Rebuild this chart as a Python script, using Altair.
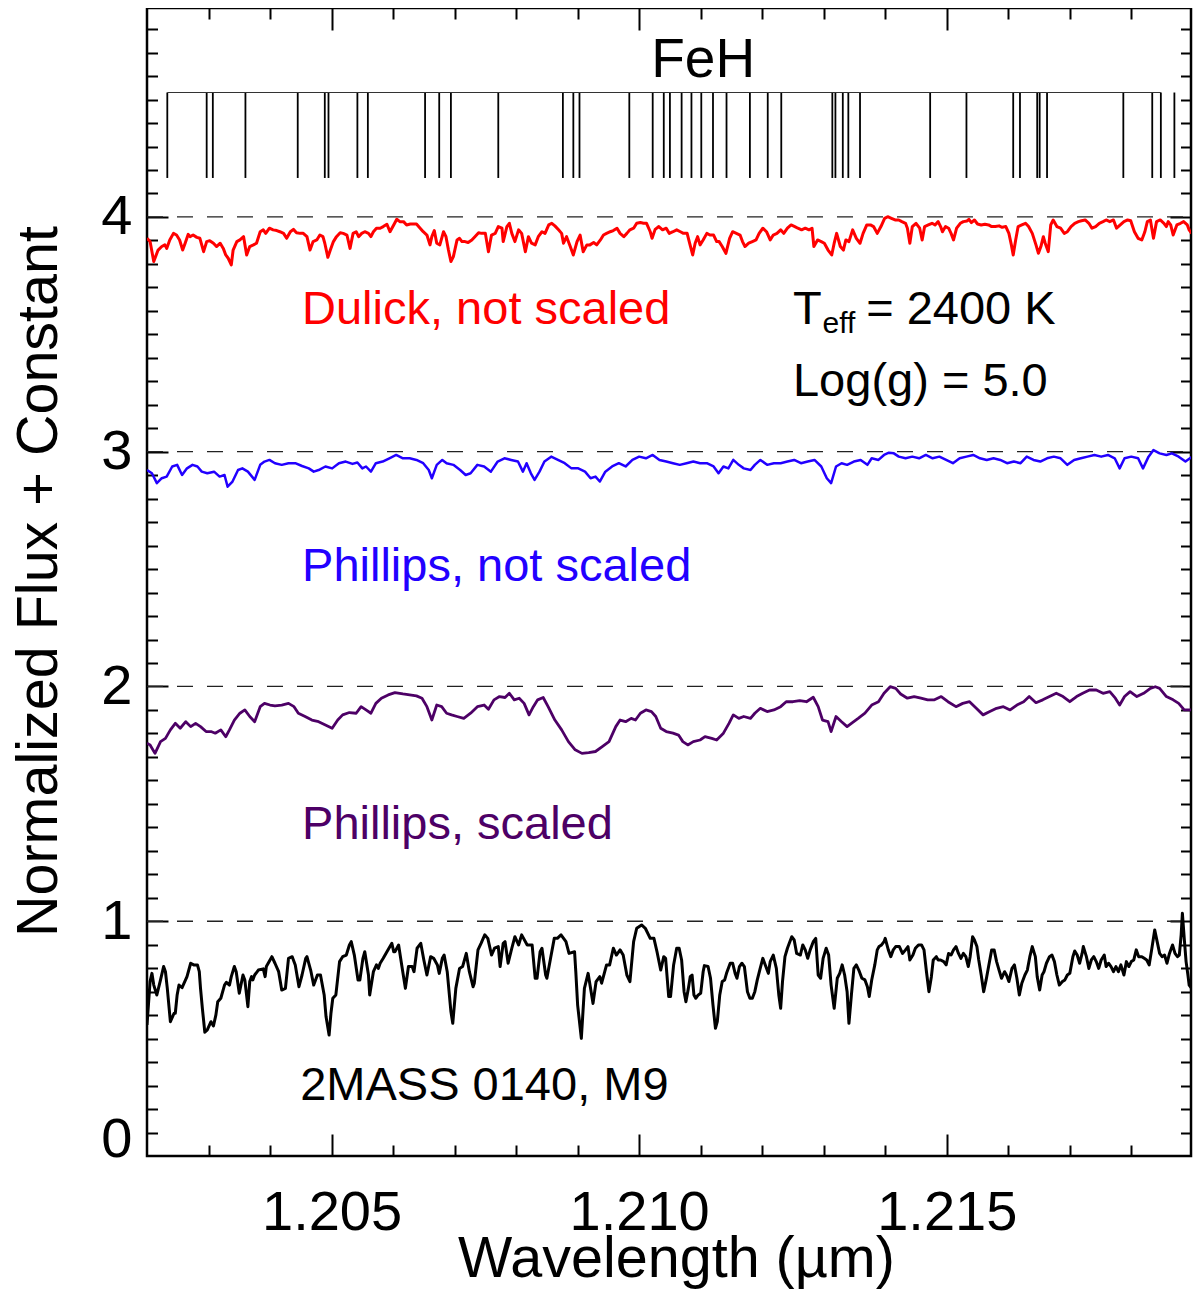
import altair as alt
import pandas as pd

FONT = "Liberation Sans"
W, H = 1044, 1148
X_DOMAIN = [1.202, 1.21897]
Y_DOMAIN = [0.0, 4.89]

# ---------------- axis values ----------------
X_LABELS = [1.205, 1.210, 1.215]
X_MINOR = [1.203, 1.204, 1.205, 1.206, 1.207, 1.208, 1.209, 1.210, 1.211,
           1.212, 1.213, 1.214, 1.215, 1.216, 1.217, 1.218]
Y_LABELS = [0, 1, 2, 3, 4]
Y_MINOR = [round(0.1 * i, 1) for i in range(1, 49)]
REF_LEVELS = [1, 2, 3, 4]

# ---------------- FeH line list ----------------
FEH_LINES = [1.20233, 1.20297, 1.20307, 1.20360, 1.20445, 1.20489, 1.20495, 1.20542,
             1.20559, 1.20652, 1.20675, 1.20694, 1.20771, 1.20876, 1.20893, 1.20903,
             1.20984, 1.21022, 1.21040, 1.21050, 1.21069, 1.21085, 1.21101, 1.21120,
             1.21142, 1.21180, 1.21209, 1.21231, 1.21314, 1.21319, 1.21331, 1.21340,
             1.21359, 1.21473, 1.21532, 1.21608, 1.21619, 1.21647, 1.21651, 1.21663,
             1.21787, 1.21834, 1.21848, 1.21870]
FEH_BAR = [1.20233, 1.21848]
FEH_TOP = 4.530
FEH_BOTTOM = 4.166

# ---------------- spectra (wavelength, flux + constant) ----------------
RED = [
    (1.20200, 3.909), (1.20205, 3.895), (1.20211, 3.810), (1.20218, 3.859), (1.20224, 3.874),
    (1.20229, 3.881), (1.20232, 3.866), (1.20237, 3.902), (1.20243, 3.930), (1.20248, 3.923),
    (1.20253, 3.902), (1.20258, 3.859), (1.20262, 3.888), (1.20267, 3.926), (1.20270, 3.916),
    (1.20275, 3.923), (1.20281, 3.913), (1.20286, 3.909), (1.20292, 3.852), (1.20297, 3.895),
    (1.20302, 3.899), (1.20308, 3.888), (1.20313, 3.874), (1.20319, 3.888), (1.20324, 3.866),
    (1.20328, 3.838), (1.20332, 3.824), (1.20337, 3.796), (1.20340, 3.859), (1.20346, 3.895),
    (1.20351, 3.902), (1.20357, 3.916), (1.20362, 3.838), (1.20367, 3.874), (1.20373, 3.881),
    (1.20378, 3.888), (1.20384, 3.937), (1.20389, 3.945), (1.20393, 3.930), (1.20399, 3.952),
    (1.20405, 3.945), (1.20411, 3.942), (1.20416, 3.937), (1.20422, 3.930), (1.20427, 3.909),
    (1.20433, 3.937), (1.20438, 3.947), (1.20443, 3.933), (1.20449, 3.930), (1.20454, 3.930),
    (1.20460, 3.916), (1.20465, 3.859), (1.20470, 3.895), (1.20476, 3.902), (1.20481, 3.923),
    (1.20486, 3.916), (1.20489, 3.888), (1.20494, 3.828), (1.20498, 3.859), (1.20503, 3.895),
    (1.20508, 3.916), (1.20514, 3.933), (1.20519, 3.930), (1.20525, 3.923), (1.20530, 3.866),
    (1.20535, 3.930), (1.20540, 3.937), (1.20544, 3.916), (1.20549, 3.930), (1.20554, 3.937),
    (1.20560, 3.930), (1.20564, 3.916), (1.20568, 3.937), (1.20573, 3.952), (1.20579, 3.952),
    (1.20584, 3.959), (1.20590, 3.969), (1.20595, 3.937), (1.20601, 3.966), (1.20606, 3.990),
    (1.20611, 3.980), (1.20617, 3.980), (1.20622, 3.966), (1.20628, 3.970), (1.20633, 3.970),
    (1.20638, 3.970), (1.20644, 3.952), (1.20649, 3.937), (1.20655, 3.923), (1.20660, 3.881),
    (1.20663, 3.916), (1.20667, 3.942), (1.20671, 3.888), (1.20676, 3.881), (1.20682, 3.937),
    (1.20686, 3.916), (1.20690, 3.859), (1.20694, 3.810), (1.20698, 3.831), (1.20704, 3.902),
    (1.20708, 3.909), (1.20712, 3.895), (1.20717, 3.895), (1.20722, 3.891), (1.20728, 3.902),
    (1.20733, 3.916), (1.20739, 3.933), (1.20744, 3.930), (1.20750, 3.930), (1.20755, 3.852),
    (1.20760, 3.923), (1.20766, 3.930), (1.20771, 3.959), (1.20777, 3.952), (1.20779, 3.895),
    (1.20785, 3.959), (1.20789, 3.973), (1.20793, 3.930), (1.20798, 3.895), (1.20804, 3.945),
    (1.20809, 3.930), (1.20815, 3.852), (1.20820, 3.916), (1.20825, 3.888), (1.20831, 3.881),
    (1.20836, 3.916), (1.20842, 3.937), (1.20847, 3.930), (1.20853, 3.966), (1.20858, 3.973),
    (1.20863, 3.962), (1.20869, 3.945), (1.20874, 3.930), (1.20877, 3.888), (1.20882, 3.916),
    (1.20888, 3.874), (1.20893, 3.838), (1.20899, 3.895), (1.20904, 3.923), (1.20909, 3.852),
    (1.20915, 3.881), (1.20920, 3.881), (1.20926, 3.891), (1.20931, 3.881), (1.20937, 3.902),
    (1.20942, 3.923), (1.20947, 3.930), (1.20953, 3.937), (1.20958, 3.942), (1.20964, 3.952),
    (1.20969, 3.930), (1.20975, 3.916), (1.20980, 3.930), (1.20985, 3.945), (1.20991, 3.952),
    (1.20996, 3.973), (1.21002, 3.976), (1.21007, 3.973), (1.21012, 3.973), (1.21018, 3.937),
    (1.21021, 3.909), (1.21026, 3.947), (1.21032, 3.959), (1.21038, 3.945), (1.21044, 3.952),
    (1.21049, 3.930), (1.21055, 3.937), (1.21061, 3.945), (1.21067, 3.937), (1.21072, 3.930),
    (1.21078, 3.930), (1.21082, 3.888), (1.21087, 3.838), (1.21091, 3.888), (1.21095, 3.916),
    (1.21099, 3.881), (1.21104, 3.902), (1.21110, 3.930), (1.21115, 3.923), (1.21121, 3.923),
    (1.21126, 3.895), (1.21130, 3.895), (1.21135, 3.874), (1.21141, 3.845), (1.21147, 3.909),
    (1.21152, 3.937), (1.21158, 3.930), (1.21164, 3.923), (1.21168, 3.895), (1.21172, 3.874),
    (1.21178, 3.888), (1.21184, 3.895), (1.21190, 3.902), (1.21195, 3.930), (1.21201, 3.952),
    (1.21207, 3.937), (1.21213, 3.902), (1.21218, 3.923), (1.21224, 3.930), (1.21230, 3.945),
    (1.21235, 3.930), (1.21241, 3.952), (1.21247, 3.966), (1.21253, 3.959), (1.21258, 3.952),
    (1.21264, 3.945), (1.21270, 3.952), (1.21276, 3.945), (1.21281, 3.952), (1.21284, 3.874),
    (1.21290, 3.902), (1.21296, 3.895), (1.21301, 3.888), (1.21307, 3.859), (1.21313, 3.838),
    (1.21317, 3.888), (1.21321, 3.930), (1.21327, 3.874), (1.21332, 3.859), (1.21336, 3.902),
    (1.21341, 3.895), (1.21347, 3.945), (1.21353, 3.909), (1.21359, 3.888), (1.21364, 3.930),
    (1.21370, 3.966), (1.21376, 3.966), (1.21381, 3.959), (1.21387, 3.930), (1.21393, 3.959),
    (1.21399, 3.994), (1.21404, 4.001), (1.21410, 3.994), (1.21416, 3.987), (1.21422, 3.987),
    (1.21427, 3.980), (1.21433, 3.973), (1.21436, 3.952), (1.21440, 3.888), (1.21444, 3.959),
    (1.21450, 3.973), (1.21456, 3.952), (1.21460, 3.902), (1.21464, 3.959), (1.21470, 3.966),
    (1.21476, 3.973), (1.21481, 3.966), (1.21486, 3.980), (1.21490, 3.959), (1.21493, 3.937),
    (1.21498, 3.959), (1.21503, 3.952), (1.21507, 3.930), (1.21511, 3.902), (1.21516, 3.952),
    (1.21522, 3.973), (1.21527, 3.980), (1.21533, 3.983), (1.21536, 3.990), (1.21540, 3.976),
    (1.21545, 3.987), (1.21550, 3.970), (1.21556, 3.966), (1.21562, 3.969), (1.21568, 3.966),
    (1.21573, 3.959), (1.21579, 3.959), (1.21585, 3.962), (1.21590, 3.956), (1.21596, 3.959),
    (1.21601, 3.930), (1.21605, 3.881), (1.21608, 3.838), (1.21612, 3.902), (1.21616, 3.959),
    (1.21622, 3.966), (1.21628, 3.973), (1.21633, 3.959), (1.21639, 3.930), (1.21645, 3.881),
    (1.21649, 3.845), (1.21653, 3.874), (1.21657, 3.916), (1.21660, 3.888), (1.21665, 3.852),
    (1.21669, 3.966), (1.21673, 3.987), (1.21679, 3.959), (1.21685, 3.952), (1.21691, 3.930),
    (1.21696, 3.937), (1.21702, 3.959), (1.21708, 3.973), (1.21714, 3.980), (1.21719, 3.984),
    (1.21725, 3.987), (1.21731, 3.973), (1.21736, 3.952), (1.21742, 3.959), (1.21748, 3.973),
    (1.21754, 3.980), (1.21759, 3.987), (1.21765, 3.980), (1.21771, 3.987), (1.21776, 3.952),
    (1.21782, 3.966), (1.21788, 3.980), (1.21794, 3.987), (1.21799, 3.984), (1.21805, 3.937),
    (1.21811, 3.909), (1.21817, 3.902), (1.21822, 3.937), (1.21826, 3.980), (1.21831, 3.987),
    (1.21836, 3.909), (1.21841, 3.980), (1.21847, 3.987), (1.21853, 3.973), (1.21857, 3.959),
    (1.21860, 3.980), (1.21864, 3.966), (1.21868, 3.923), (1.21874, 3.966), (1.21880, 3.973),
    (1.21885, 3.980), (1.21891, 3.966), (1.21894, 3.945), (1.21898, 3.930),
]

BLUE = [
    (1.20200, 2.922), (1.20208, 2.908), (1.20216, 2.866), (1.20224, 2.887), (1.20232, 2.894),
    (1.20241, 2.937), (1.20249, 2.944), (1.20257, 2.901), (1.20265, 2.929), (1.20274, 2.944),
    (1.20282, 2.937), (1.20289, 2.915), (1.20298, 2.908), (1.20309, 2.915), (1.20318, 2.894),
    (1.20326, 2.901), (1.20331, 2.851), (1.20339, 2.873), (1.20348, 2.922), (1.20355, 2.929),
    (1.20364, 2.915), (1.20375, 2.880), (1.20384, 2.944), (1.20391, 2.958), (1.20399, 2.965),
    (1.20408, 2.951), (1.20419, 2.944), (1.20430, 2.951), (1.20441, 2.951), (1.20452, 2.939),
    (1.20463, 2.929), (1.20471, 2.915), (1.20479, 2.922), (1.20490, 2.937), (1.20501, 2.929),
    (1.20512, 2.951), (1.20523, 2.958), (1.20534, 2.948), (1.20542, 2.954), (1.20550, 2.929),
    (1.20556, 2.937), (1.20564, 2.915), (1.20572, 2.951), (1.20583, 2.958), (1.20594, 2.972),
    (1.20605, 2.986), (1.20616, 2.972), (1.20627, 2.972), (1.20638, 2.965), (1.20649, 2.951),
    (1.20658, 2.922), (1.20663, 2.887), (1.20671, 2.944), (1.20680, 2.965), (1.20687, 2.951),
    (1.20698, 2.944), (1.20709, 2.922), (1.20718, 2.901), (1.20726, 2.908), (1.20737, 2.944),
    (1.20748, 2.937), (1.20759, 2.915), (1.20770, 2.958), (1.20781, 2.972), (1.20792, 2.965),
    (1.20803, 2.958), (1.20811, 2.915), (1.20817, 2.951), (1.20824, 2.908), (1.20830, 2.880),
    (1.20838, 2.915), (1.20846, 2.958), (1.20857, 2.979), (1.20868, 2.965), (1.20879, 2.951),
    (1.20890, 2.929), (1.20901, 2.929), (1.20912, 2.915), (1.20921, 2.887), (1.20929, 2.894),
    (1.20936, 2.873), (1.20945, 2.915), (1.20956, 2.937), (1.20967, 2.951), (1.20978, 2.937),
    (1.20989, 2.965), (1.21000, 2.979), (1.21011, 2.972), (1.21022, 2.986), (1.21033, 2.965),
    (1.21044, 2.958), (1.21055, 2.951), (1.21066, 2.944), (1.21077, 2.951), (1.21088, 2.958),
    (1.21099, 2.951), (1.21110, 2.951), (1.21121, 2.937), (1.21129, 2.908), (1.21137, 2.937),
    (1.21145, 2.929), (1.21153, 2.965), (1.21162, 2.944), (1.21170, 2.929), (1.21181, 2.922),
    (1.21188, 2.944), (1.21197, 2.965), (1.21208, 2.944), (1.21219, 2.951), (1.21230, 2.951),
    (1.21241, 2.958), (1.21252, 2.965), (1.21263, 2.951), (1.21274, 2.958), (1.21285, 2.965),
    (1.21296, 2.937), (1.21305, 2.887), (1.21312, 2.866), (1.21320, 2.937), (1.21329, 2.951),
    (1.21338, 2.944), (1.21349, 2.958), (1.21360, 2.965), (1.21371, 2.944), (1.21378, 2.972),
    (1.21389, 2.965), (1.21398, 2.986), (1.21406, 2.996), (1.21414, 2.993), (1.21422, 2.979),
    (1.21433, 2.972), (1.21444, 2.979), (1.21455, 2.972), (1.21466, 2.986), (1.21477, 2.972),
    (1.21488, 2.979), (1.21499, 2.965), (1.21510, 2.951), (1.21521, 2.972), (1.21532, 2.979),
    (1.21543, 2.986), (1.21554, 2.972), (1.21565, 2.965), (1.21576, 2.972), (1.21587, 2.965),
    (1.21598, 2.951), (1.21609, 2.958), (1.21620, 2.951), (1.21630, 2.979), (1.21641, 2.965),
    (1.21652, 2.958), (1.21663, 2.972), (1.21674, 2.979), (1.21685, 2.972), (1.21696, 2.944),
    (1.21707, 2.965), (1.21718, 2.972), (1.21729, 2.979), (1.21740, 2.986), (1.21751, 2.979),
    (1.21762, 2.986), (1.21773, 2.972), (1.21781, 2.929), (1.21789, 2.972), (1.21800, 2.979),
    (1.21811, 2.972), (1.21819, 2.929), (1.21828, 2.979), (1.21836, 3.007), (1.21846, 2.993),
    (1.21857, 2.986), (1.21866, 2.993), (1.21877, 2.979), (1.21888, 2.958), (1.21899, 2.979),
]

PURPLE = [
    (1.20200, 1.758), (1.20205, 1.751), (1.20213, 1.715), (1.20222, 1.765), (1.20230, 1.779),
    (1.20238, 1.815), (1.20246, 1.843), (1.20254, 1.822), (1.20263, 1.850), (1.20271, 1.829),
    (1.20279, 1.843), (1.20287, 1.829), (1.20296, 1.808), (1.20304, 1.808), (1.20311, 1.801),
    (1.20320, 1.815), (1.20328, 1.786), (1.20334, 1.815), (1.20342, 1.857), (1.20351, 1.886),
    (1.20359, 1.900), (1.20367, 1.872), (1.20375, 1.850), (1.20384, 1.914), (1.20391, 1.928),
    (1.20400, 1.921), (1.20408, 1.917), (1.20419, 1.921), (1.20430, 1.928), (1.20439, 1.914),
    (1.20446, 1.886), (1.20457, 1.872), (1.20468, 1.857), (1.20479, 1.850), (1.20490, 1.836),
    (1.20501, 1.822), (1.20510, 1.857), (1.20518, 1.879), (1.20529, 1.889), (1.20540, 1.886),
    (1.20548, 1.914), (1.20556, 1.900), (1.20564, 1.886), (1.20572, 1.928), (1.20581, 1.950),
    (1.20592, 1.964), (1.20603, 1.974), (1.20616, 1.968), (1.20627, 1.964), (1.20638, 1.960),
    (1.20647, 1.950), (1.20655, 1.914), (1.20663, 1.857), (1.20671, 1.921), (1.20679, 1.914),
    (1.20687, 1.886), (1.20695, 1.879), (1.20704, 1.872), (1.20715, 1.864), (1.20726, 1.886),
    (1.20737, 1.914), (1.20748, 1.921), (1.20755, 1.903), (1.20764, 1.943), (1.20773, 1.957),
    (1.20782, 1.953), (1.20789, 1.971), (1.20797, 1.943), (1.20805, 1.950), (1.20813, 1.928),
    (1.20821, 1.879), (1.20828, 1.914), (1.20835, 1.943), (1.20844, 1.953), (1.20852, 1.914),
    (1.20863, 1.857), (1.20874, 1.815), (1.20885, 1.765), (1.20896, 1.730), (1.20907, 1.715),
    (1.20918, 1.718), (1.20929, 1.723), (1.20940, 1.744), (1.20951, 1.765), (1.20962, 1.829),
    (1.20969, 1.857), (1.20978, 1.850), (1.20987, 1.864), (1.20994, 1.857), (1.21002, 1.886),
    (1.21011, 1.900), (1.21020, 1.893), (1.21027, 1.872), (1.21035, 1.822), (1.21044, 1.808),
    (1.21055, 1.801), (1.21064, 1.793), (1.21071, 1.765), (1.21079, 1.751), (1.21088, 1.765),
    (1.21099, 1.772), (1.21107, 1.786), (1.21118, 1.779), (1.21126, 1.772), (1.21137, 1.801),
    (1.21146, 1.843), (1.21153, 1.879), (1.21162, 1.864), (1.21170, 1.872), (1.21181, 1.864),
    (1.21188, 1.886), (1.21197, 1.907), (1.21208, 1.893), (1.21219, 1.900), (1.21230, 1.914),
    (1.21239, 1.935), (1.21250, 1.935), (1.21261, 1.940), (1.21272, 1.935), (1.21283, 1.954),
    (1.21291, 1.914), (1.21298, 1.857), (1.21307, 1.850), (1.21312, 1.808), (1.21320, 1.872),
    (1.21329, 1.850), (1.21338, 1.829), (1.21345, 1.843), (1.21356, 1.864), (1.21367, 1.886),
    (1.21378, 1.921), (1.21389, 1.935), (1.21398, 1.971), (1.21408, 1.999), (1.21417, 1.992),
    (1.21425, 1.968), (1.21436, 1.950), (1.21447, 1.957), (1.21458, 1.950), (1.21469, 1.943),
    (1.21480, 1.943), (1.21491, 1.957), (1.21502, 1.935), (1.21515, 1.914), (1.21526, 1.928),
    (1.21537, 1.935), (1.21548, 1.907), (1.21559, 1.879), (1.21570, 1.893), (1.21581, 1.907),
    (1.21592, 1.914), (1.21603, 1.900), (1.21614, 1.921), (1.21625, 1.935), (1.21634, 1.957),
    (1.21645, 1.931), (1.21656, 1.943), (1.21667, 1.957), (1.21678, 1.971), (1.21689, 1.957),
    (1.21700, 1.935), (1.21711, 1.957), (1.21721, 1.971), (1.21732, 1.985), (1.21743, 1.985),
    (1.21754, 1.971), (1.21765, 1.978), (1.21774, 1.950), (1.21781, 1.921), (1.21789, 1.957),
    (1.21798, 1.978), (1.21809, 1.957), (1.21820, 1.971), (1.21831, 1.992), (1.21839, 1.999),
    (1.21846, 1.992), (1.21857, 1.957), (1.21868, 1.943), (1.21877, 1.928), (1.21886, 1.900),
    (1.21897, 1.900),
]

BLACK = [
    (1.20200, 0.558), (1.20205, 0.743), (1.20208, 0.778), (1.20211, 0.728), (1.20216, 0.686),
    (1.20222, 0.750), (1.20227, 0.807), (1.20230, 0.785), (1.20233, 0.714), (1.20238, 0.572),
    (1.20244, 0.608), (1.20246, 0.608), (1.20249, 0.686), (1.20252, 0.728), (1.20257, 0.717),
    (1.20265, 0.764), (1.20271, 0.821), (1.20276, 0.814), (1.20282, 0.814), (1.20285, 0.785),
    (1.20287, 0.714), (1.20290, 0.629), (1.20294, 0.527), (1.20298, 0.537), (1.20304, 0.572),
    (1.20308, 0.554), (1.20312, 0.601), (1.20315, 0.657), (1.20320, 0.672), (1.20326, 0.728),
    (1.20329, 0.740), (1.20334, 0.728), (1.20337, 0.764), (1.20342, 0.807), (1.20345, 0.785),
    (1.20350, 0.693), (1.20356, 0.771), (1.20359, 0.750), (1.20364, 0.636), (1.20367, 0.743),
    (1.20370, 0.764), (1.20372, 0.750), (1.20375, 0.771), (1.20381, 0.792), (1.20389, 0.797),
    (1.20392, 0.764), (1.20394, 0.807), (1.20403, 0.849), (1.20408, 0.821), (1.20414, 0.785),
    (1.20419, 0.707), (1.20425, 0.714), (1.20430, 0.842), (1.20436, 0.849), (1.20441, 0.814),
    (1.20447, 0.721), (1.20452, 0.771), (1.20458, 0.842), (1.20460, 0.849), (1.20466, 0.792),
    (1.20471, 0.728), (1.20477, 0.771), (1.20482, 0.771), (1.20488, 0.686), (1.20491, 0.594),
    (1.20496, 0.515), (1.20499, 0.608), (1.20502, 0.672), (1.20507, 0.686), (1.20513, 0.828),
    (1.20518, 0.849), (1.20524, 0.856), (1.20529, 0.899), (1.20532, 0.913), (1.20537, 0.856),
    (1.20543, 0.750), (1.20546, 0.750), (1.20551, 0.842), (1.20554, 0.870), (1.20560, 0.771),
    (1.20562, 0.686), (1.20568, 0.785), (1.20573, 0.814), (1.20576, 0.799), (1.20579, 0.821),
    (1.20584, 0.842), (1.20590, 0.870), (1.20598, 0.906), (1.20601, 0.870), (1.20603, 0.870),
    (1.20609, 0.899), (1.20614, 0.814), (1.20620, 0.714), (1.20625, 0.807), (1.20631, 0.807),
    (1.20634, 0.785), (1.20639, 0.885), (1.20645, 0.906), (1.20650, 0.835), (1.20655, 0.771),
    (1.20661, 0.849), (1.20666, 0.842), (1.20672, 0.814), (1.20675, 0.778), (1.20680, 0.842),
    (1.20683, 0.856), (1.20688, 0.785), (1.20694, 0.615), (1.20697, 0.565), (1.20702, 0.714),
    (1.20708, 0.799), (1.20713, 0.807), (1.20719, 0.863), (1.20724, 0.785), (1.20730, 0.721),
    (1.20732, 0.736), (1.20738, 0.878), (1.20743, 0.906), (1.20749, 0.942), (1.20754, 0.927),
    (1.20760, 0.856), (1.20765, 0.885), (1.20771, 0.892), (1.20774, 0.807), (1.20779, 0.906),
    (1.20782, 0.913), (1.20787, 0.821), (1.20793, 0.885), (1.20798, 0.934), (1.20804, 0.899),
    (1.20809, 0.942), (1.20818, 0.899), (1.20826, 0.899), (1.20831, 0.757), (1.20834, 0.757),
    (1.20839, 0.870), (1.20842, 0.885), (1.20848, 0.771), (1.20850, 0.757), (1.20856, 0.842),
    (1.20862, 0.927), (1.20867, 0.927), (1.20873, 0.942), (1.20881, 0.913), (1.20886, 0.863),
    (1.20895, 0.870), (1.20897, 0.785), (1.20900, 0.643), (1.20906, 0.501), (1.20911, 0.714),
    (1.20917, 0.778), (1.20925, 0.650), (1.20930, 0.743), (1.20936, 0.764), (1.20939, 0.736),
    (1.20947, 0.814), (1.20952, 0.814), (1.20958, 0.885), (1.20963, 0.856), (1.20969, 0.878),
    (1.20974, 0.856), (1.20980, 0.771), (1.20985, 0.743), (1.20991, 0.913), (1.20996, 0.970),
    (1.21004, 0.984), (1.21010, 0.970), (1.21018, 0.927), (1.21024, 0.927), (1.21029, 0.870),
    (1.21035, 0.792), (1.21040, 0.849), (1.21043, 0.842), (1.21048, 0.679),
    (1.21051, 0.679), (1.21056, 0.814), (1.21061, 0.885), (1.21065, 0.885), (1.21069, 0.835),
    (1.21073, 0.700), (1.21076, 0.657), (1.21080, 0.714), (1.21083, 0.764), (1.21086, 0.771),
    (1.21089, 0.686), (1.21092, 0.672), (1.21096, 0.686), (1.21100, 0.693), (1.21104, 0.785),
    (1.21106, 0.811), (1.21112, 0.807), (1.21116, 0.757), (1.21120, 0.643), (1.21124, 0.544),
    (1.21127, 0.572), (1.21131, 0.686), (1.21135, 0.743), (1.21139, 0.750), (1.21142, 0.778),
    (1.21148, 0.821), (1.21152, 0.821), (1.21156, 0.778), (1.21159, 0.757), (1.21163, 0.807),
    (1.21167, 0.821), (1.21171, 0.807), (1.21176, 0.700), (1.21180, 0.672), (1.21184, 0.672),
    (1.21188, 0.700), (1.21192, 0.750), (1.21196, 0.792), (1.21201, 0.842), (1.21205, 0.814),
    (1.21210, 0.778), (1.21213, 0.828), (1.21218, 0.856), (1.21223, 0.799), (1.21227, 0.686),
    (1.21230, 0.629), (1.21233, 0.743), (1.21237, 0.849), (1.21241, 0.885), (1.21244, 0.906),
    (1.21248, 0.934), (1.21252, 0.920), (1.21256, 0.863), (1.21262, 0.856), (1.21266, 0.899),
    (1.21270, 0.878), (1.21274, 0.842), (1.21278, 0.878), (1.21283, 0.913), (1.21287, 0.927),
    (1.21291, 0.771), (1.21295, 0.757), (1.21299, 0.842), (1.21304, 0.885), (1.21308, 0.856),
    (1.21312, 0.728), (1.21317, 0.629), (1.21322, 0.757), (1.21326, 0.778), (1.21330, 0.814),
    (1.21334, 0.771), (1.21338, 0.700), (1.21341, 0.565), (1.21345, 0.686), (1.21349, 0.799),
    (1.21353, 0.814), (1.21357, 0.792), (1.21362, 0.757), (1.21367, 0.750), (1.21371, 0.721),
    (1.21374, 0.679), (1.21378, 0.750), (1.21383, 0.814), (1.21387, 0.878), (1.21390, 0.892),
    (1.21394, 0.899), (1.21398, 0.913), (1.21400, 0.927), (1.21405, 0.878), (1.21409, 0.849),
    (1.21413, 0.878), (1.21417, 0.892), (1.21423, 0.892), (1.21428, 0.863), (1.21433, 0.878),
    (1.21437, 0.892), (1.21440, 0.835), (1.21445, 0.856), (1.21449, 0.885), (1.21454, 0.899),
    (1.21459, 0.899), (1.21463, 0.878), (1.21467, 0.785), (1.21471, 0.700), (1.21475, 0.764),
    (1.21478, 0.835), (1.21483, 0.849), (1.21486, 0.835), (1.21490, 0.835), (1.21495, 0.828),
    (1.21499, 0.814), (1.21503, 0.863), (1.21507, 0.856), (1.21511, 0.878), (1.21515, 0.892),
    (1.21519, 0.863), (1.21523, 0.842), (1.21527, 0.863), (1.21531, 0.849), (1.21535, 0.807),
    (1.21538, 0.849), (1.21542, 0.934), (1.21545, 0.920), (1.21549, 0.892), (1.21552, 0.835),
    (1.21556, 0.771), (1.21560, 0.700), (1.21564, 0.750), (1.21568, 0.807), (1.21573, 0.878),
    (1.21577, 0.878), (1.21581, 0.828), (1.21585, 0.792), (1.21589, 0.757), (1.21594, 0.785),
    (1.21597, 0.771), (1.21601, 0.743), (1.21606, 0.799), (1.21610, 0.814), (1.21614, 0.757),
    (1.21618, 0.686), (1.21622, 0.736), (1.21627, 0.771), (1.21631, 0.792), (1.21635, 0.849),
    (1.21639, 0.892), (1.21644, 0.849), (1.21647, 0.764), (1.21651, 0.707), (1.21655, 0.771),
    (1.21658, 0.785), (1.21662, 0.821), (1.21667, 0.849), (1.21671, 0.856), (1.21675, 0.828),
    (1.21679, 0.771), (1.21683, 0.728), (1.21688, 0.743), (1.21692, 0.750), (1.21696, 0.771),
    (1.21700, 0.778), (1.21705, 0.849), (1.21708, 0.873), (1.21712, 0.856), (1.21716, 0.821),
    (1.21720, 0.863), (1.21722, 0.892), (1.21727, 0.849), (1.21731, 0.799), (1.21735, 0.835),
    (1.21739, 0.849), (1.21743, 0.828), (1.21747, 0.799), (1.21751, 0.835), (1.21756, 0.856),
    (1.21759, 0.807), (1.21763, 0.821), (1.21767, 0.807), (1.21771, 0.785), (1.21775, 0.807),
    (1.21779, 0.785), (1.21783, 0.814), (1.21788, 0.771), (1.21792, 0.828), (1.21796, 0.807),
    (1.21800, 0.828), (1.21804, 0.835), (1.21808, 0.878), (1.21812, 0.849), (1.21817, 0.849),
    (1.21821, 0.842), (1.21825, 0.835), (1.21829, 0.814), (1.21833, 0.878), (1.21838, 0.963),
    (1.21842, 0.913), (1.21846, 0.863), (1.21850, 0.849), (1.21854, 0.856), (1.21858, 0.821),
    (1.21862, 0.863), (1.21867, 0.899), (1.21871, 0.863), (1.21875, 0.849), (1.21878, 0.856),
    (1.21881, 0.942), (1.21883, 1.034), (1.21886, 0.927), (1.21889, 0.828), (1.21892, 0.771),
    (1.21894, 0.728), (1.21898, 0.714),
]

# ---------------- annotations ----------------
ANNOT_TEXT = ["FeH", "Dulick, not scaled", "Phillips, not scaled", "Phillips, scaled",
              "2MASS 0140, M9", "T", "eff", "= 2400 K", "Log(g) = 5.0"]
ANNOT_WL = [1.21104, 1.20452, 1.20452, 1.20452, 1.20449, 1.21250, 1.21298, 1.21369, 1.21250]
ANNOT_FLUX = [4.596, 3.544, 2.449, 1.350, 0.239, 3.544, 3.506, 3.544, 3.238]

RED_C = "#FF0000"
BLUE_C = "#2200FF"
PURPLE_C = "#4D0066"

# ---------------- chart ----------------
xs = alt.Scale(domain=X_DOMAIN, nice=False, zero=False)
ys = alt.Scale(domain=Y_DOMAIN, nice=False, zero=False)

x_major_test = "abs(datum.value*200 - round(datum.value*200)) < 0.001"
y_major_test = "abs(datum.value - round(datum.value)) < 0.001"
x_tick_size = {"condition": {"test": x_major_test, "value": 22}, "value": 11}
y_tick_size = {"condition": {"test": y_major_test, "value": 21}, "value": 10.5}


def tick_axis(orient, offset, values, size):
    return alt.Axis(orient=orient, offset=offset, values=values, labels=False, domain=False,
                    grid=False, ticks=True, tickSize=size, tickWidth=2, tickColor="black",
                    title=None)


def spec_df(pairs):
    return pd.DataFrame(pairs, columns=["wl", "flux"])


# dashed reference levels (carry ticks of the bottom and left edges)
ref_df = pd.DataFrame({"level": REF_LEVELS, "x0": [X_DOMAIN[0]] * 4, "x1": [X_DOMAIN[1]] * 4})
ref = alt.Chart(ref_df).mark_rule(strokeDash=[16, 14], color="#222222", strokeWidth=1.3).encode(
    x=alt.X("x0:Q", scale=xs, axis=tick_axis("top", -H, X_MINOR, x_tick_size)),
    x2="x1:Q",
    y=alt.Y("level:Q", scale=ys, axis=tick_axis("right", -W, Y_MINOR, y_tick_size)),
)

# FeH line list (carries ticks of the top and right edges)
feh_df = pd.DataFrame({"wl": FEH_LINES, "lo": [FEH_BOTTOM] * len(FEH_LINES),
                       "hi": [FEH_TOP] * len(FEH_LINES)})
feh = alt.Chart(feh_df).mark_rule(color="black", strokeWidth=1.8).encode(
    x=alt.X("wl:Q", scale=xs, axis=tick_axis("bottom", -H, X_MINOR, x_tick_size)),
    y=alt.Y("lo:Q", scale=ys, axis=tick_axis("left", -W, Y_MINOR, y_tick_size)),
    y2="hi:Q",
)
bar_df = pd.DataFrame({"a": [FEH_BAR[0]], "b": [FEH_BAR[1]], "y": [FEH_TOP]})
feh_bar = alt.Chart(bar_df).mark_rule(color="#333333", strokeWidth=1.2).encode(
    x=alt.X("a:Q", scale=xs, axis=None), x2="b:Q",
    y=alt.Y("y:Q", scale=ys, axis=None),
)


def spectrum(pairs, color, width):
    return alt.Chart(spec_df(pairs)).mark_line(
        color=color, strokeWidth=width, strokeJoin="round", clip=True
    ).encode(
        x=alt.X("wl:Q", scale=xs, axis=None),
        y=alt.Y("flux:Q", scale=ys, axis=None),
    )


red = spectrum(RED, RED_C, 3.0)
blue = spectrum(BLUE, BLUE_C, 2.5)
purple = spectrum(PURPLE, PURPLE_C, 2.8)

black = alt.Chart(spec_df(BLACK)).mark_line(
    color="black", strokeWidth=3.0, strokeJoin="round", clip=True
).encode(
    x=alt.X("wl:Q", scale=xs, axis=alt.Axis(
        orient="bottom", values=X_LABELS, format=".3f", ticks=False, domain=False, grid=False,
        labelFont=FONT, labelFontSize=56, labelColor="black", labelPadding=29,
        labelFlush=False, labelOverlap=False,
        title="Wavelength (µm)", titleFont=FONT, titleFontSize=57.5, titleFontWeight="normal",
        titleColor="black", titleBaseline="alphabetic", titleAlign="center",
        titleX=529, titleY=120)),
    y=alt.Y("flux:Q", scale=ys, axis=alt.Axis(
        orient="left", values=Y_LABELS, format="d", ticks=False, domain=False, grid=False,
        labelFont=FONT, labelFontSize=56, labelColor="black", labelPadding=15,
        labelFlush=False, labelOverlap=False,
        labelBaseline={"condition": {"test": "datum.value == 0", "value": "alphabetic"},
                       "value": "middle"},
        title="Normalized Flux + Constant", titleFont=FONT, titleFontSize=57.5,
        titleFontWeight="normal", titleColor="black", titleBaseline="alphabetic",
        titleAlign="center", titleAngle=270, titleX=-91, titleY=573)),
)


def annotation(i, color, size):
    df = pd.DataFrame({"wl": [ANNOT_WL[i]], "flux": [ANNOT_FLUX[i]], "t": [ANNOT_TEXT[i]]})
    align = "center" if i == 0 else "left"
    return alt.Chart(df).mark_text(
        align=align, baseline="alphabetic", font=FONT, fontSize=size, color=color
    ).encode(
        x=alt.X("wl:Q", scale=xs, axis=None),
        y=alt.Y("flux:Q", scale=ys, axis=None),
        text="t:N",
    )


texts = [
    annotation(0, "black", 55),
    annotation(1, RED_C, 47),
    annotation(2, BLUE_C, 47),
    annotation(3, PURPLE_C, 47),
    annotation(4, "black", 47),
    annotation(5, "black", 47),
    annotation(6, "black", 30),
    annotation(7, "black", 47),
    annotation(8, "black", 47),
]

chart = alt.layer(ref, feh, feh_bar, purple, blue, red, black, *texts).resolve_axis(
    x="independent", y="independent"
).properties(
    width=W, height=H,
    autosize=alt.AutoSizeParams(type="none"),
    padding={"left": 139, "top": 0, "right": 3, "bottom": 134},
).configure(font=FONT).configure_view(stroke="black", strokeWidth=2.5)

chart.save("out.html", embed_options={"renderer": "svg", "actions": False})
